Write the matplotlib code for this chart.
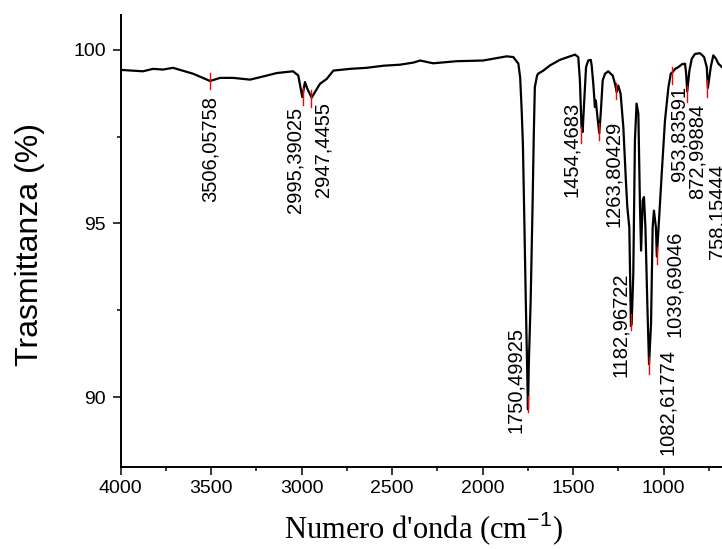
import matplotlib
matplotlib.use("Agg")
import matplotlib.pyplot as plt
from matplotlib.ticker import MultipleLocator

# ---- data ----
wavenumber = [4000, 3877, 3821, 3766, 3711, 3672, 3600, 3506, 3451, 3379, 3285, 3214,
              3137, 3048, 3019, 2997, 2982, 2969, 2945, 2927, 2899, 2862, 2825, 2733,
              2641, 2549, 2457, 2383, 2346, 2274, 2144, 1998, 1868, 1831, 1803, 1793,
              1785, 1778, 1772, 1762, 1755, 1750, 1745, 1735, 1724, 1718, 1712, 1700,
              1694, 1665, 1628, 1573, 1518, 1490, 1472, 1463, 1454, 1448, 1439, 1429,
              1417, 1403, 1398, 1389, 1380, 1375, 1367, 1356, 1348, 1337, 1324, 1306,
              1293, 1282, 1269, 1260, 1251, 1238, 1223, 1209, 1201, 1190, 1181, 1177,
              1168, 1159, 1150, 1140, 1131, 1125, 1116, 1109, 1101, 1090, 1081, 1070,
              1061, 1054, 1043, 1038, 1024, 1011, 993, 974, 961, 950, 937, 919, 900,
              882, 876, 870, 858, 845, 827, 799, 777, 762, 756, 740, 726, 711, 698,
              678, 665]
transmittance = [99.42, 99.38, 99.45, 99.43, 99.48, 99.42, 99.31, 99.10, 99.19, 99.19,
                 99.14, 99.23, 99.33, 99.38, 99.26, 98.64, 99.07, 98.88, 98.62, 98.78,
                 99.02, 99.16, 99.40, 99.45, 99.48, 99.54, 99.57, 99.63, 99.69, 99.61,
                 99.67, 99.69, 99.81, 99.79, 99.60, 99.20, 98.30, 97.30, 95.66, 92.78,
                 91.00, 89.65, 91.00, 92.78, 95.66, 97.50, 98.92, 99.25, 99.31, 99.40,
                 99.55, 99.71, 99.81, 99.86, 99.79, 99.12, 97.77, 97.63, 98.54, 99.50,
                 99.69, 99.71, 99.55, 99.02, 98.35, 98.54, 98.11, 97.60, 98.16, 99.12,
                 99.31, 99.38, 99.31, 99.26, 99.02, 98.78, 98.97, 98.73, 97.77, 96.24,
                 95.47, 94.89, 92.05, 92.11, 93.55, 97.39, 98.45, 98.16, 95.47, 94.22,
                 95.66, 95.76, 94.89, 92.59, 90.95, 92.11, 94.89, 95.37, 94.89, 94.05,
                 95.27, 96.43, 97.96, 98.92, 99.31, 99.36, 99.45, 99.50, 99.58, 99.60,
                 99.31, 98.80, 99.40, 99.74, 99.88, 99.90, 99.79, 99.50, 98.90, 99.50,
                 99.84, 99.74, 99.60, 99.50, 99.45]

peak_wn = [3506.05758, 2995.39025, 2947.4455, 1750.49925, 1454.4683, 1356.0,
           1263.80429, 1182.96722, 1082.61774, 1039.69046, 953.83591, 872.99884,
           758.15444]
peak_t = [99.10, 98.66, 98.59, 89.80, 97.55, 97.64, 98.81, 92.16, 90.91, 94.08,
          99.26, 98.73, 98.88]
peak_labels = ["3506,05758", "2995,39025", "2947,4455", "1750,49925", "1454,4683", "",
               "1263,80429", "1182,96722", "1082,61774", "1039,69046", "953,83591",
               "872,99884", "758,15444"]

x_ticks = [4000, 3500, 3000, 2500, 2000, 1500, 1000]
y_ticks = [90, 95, 100]

# label anchor (layout only): x in cm-1, top of rotated text in %
label_anchor = [(3506.6, 98.68), (3038.7, 98.35), (2882, 98.49), (1821.5, 92.01),
                (1508, 98.49), None, (1280, 97.96), (1241, 93.60), (980, 91.39),
                (937.6, 94.80), (914, 98.97), (816, 98.45), (707, 96.72)]

plt.rcParams["mathtext.fontset"] = "custom"
plt.rcParams["mathtext.sf"] = "Liberation Sans"
plt.rcParams["mathtext.rm"] = "Liberation Serif"

fig = plt.figure(figsize=(7.22, 5.49), dpi=100)
ax = fig.add_axes([120.7 / 722, 1 - 466.7 / 549, 651.6 / 722, 451.7 / 549])

ax.plot(wavenumber, transmittance, color="black", lw=1.6, zorder=3)

for wn, t, lab, anc in zip(peak_wn, peak_t, peak_labels, label_anchor):
    ax.plot([wn, wn], [t + 0.24, t - 0.24], color="red", lw=1.0, zorder=4)
    if lab and anc:
        ax.text(anc[0], anc[1], lab, rotation=90, ha="center", va="top",
                fontsize=14.5, family="Liberation Sans", color="black", zorder=5)

ax.set_xlim(4000, 400)
ax.set_ylim(88, 101)
ax.set_xticks(x_ticks)
ax.set_yticks(y_ticks)
ax.xaxis.set_minor_locator(MultipleLocator(250))
ax.yaxis.set_minor_locator(MultipleLocator(2.5))

for s in ["top", "right"]:
    ax.spines[s].set_visible(False)
for s in ["left", "bottom"]:
    ax.spines[s].set_linewidth(1.4)

ax.tick_params(which="major", direction="out", length=5.8, width=1.1, labelsize=14)
ax.tick_params(axis="x", which="major", pad=3.5)
ax.tick_params(axis="y", which="major", pad=5.0)
ax.tick_params(which="minor", direction="out", length=3.0, width=1.1)
for lab in ax.get_xticklabels() + ax.get_yticklabels():
    lab.set_family("Liberation Sans")

ax.set_xlabel(r"Numero d'onda (cm$^{\mathsf{-1}}$)", family="Liberation Serif", fontsize=22)
ax.xaxis.set_label_coords((423 - 120.7) / 651.6, (466.7 - 509) / 451.7)
ax.set_ylabel("Trasmittanza (%)", family="Liberation Sans", fontsize=23)
ax.yaxis.set_label_coords((45 - 120.7) / 651.6, (466.7 - 244) / 451.7)

fig.savefig("out.png", dpi=100)
